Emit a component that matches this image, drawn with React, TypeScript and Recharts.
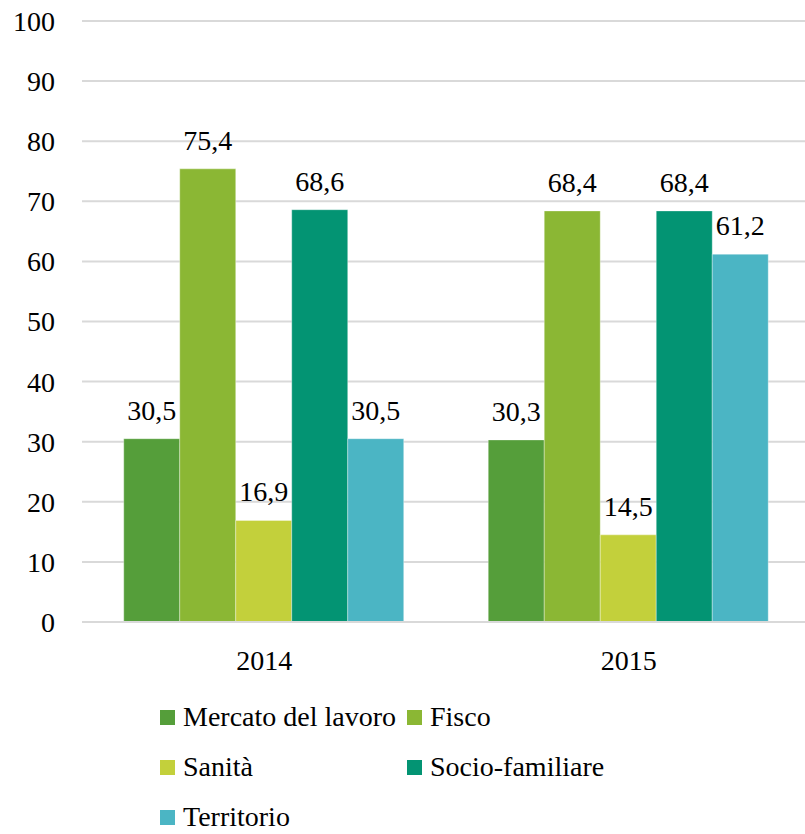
import React from "react"
import { Bar, BarChart, CartesianGrid, LabelList, XAxis, YAxis } from "recharts"

const years = ["2014", "2015"]
const mercato = [30.5, 30.3]
const fisco = [75.4, 68.4]
const sanita = [16.9, 14.5]
const socio = [68.6, 68.4]
const territorio = [30.5, 61.2]
const yTicks = [0, 10, 20, 30, 40, 50, 60, 70, 80, 90, 100]

const series = [
  { key: "mercato", name: "Mercato del lavoro", color: "#559E3A" },
  { key: "fisco", name: "Fisco", color: "#8BB734" },
  { key: "sanita", name: "Sanità", color: "#C3D03B" },
  { key: "socio", name: "Socio-familiare", color: "#039473" },
  { key: "territorio", name: "Territorio", color: "#4BB5C4" },
]

const data = years.map((year, i) => ({
  year,
  mercato: mercato[i],
  fisco: fisco[i],
  sanita: sanita[i],
  socio: socio[i],
  territorio: territorio[i],
}))

const font = "Liberation Serif, DejaVu Serif, serif"
const fmt = (v: any) => String(v).replace(".", ",")

function LegendBox() {
  return (
    <div
      style={{
        position: "absolute",
        left: 160,
        top: 705,
        display: "grid",
        gridTemplateColumns: "247px 250px",
        rowGap: 26,
        fontFamily: font,
        fontSize: 28,
        lineHeight: "24px",
        color: "#000",
      }}
    >
      {series.map((s) => (
        <div key={s.key} style={{ display: "flex", alignItems: "center", height: 24, whiteSpace: "nowrap" }}>
          <span style={{ width: 15, height: 15, background: s.color, marginRight: 8, display: "inline-block" }} />
          {s.name}
        </div>
      ))}
    </div>
  )
}

export default function App() {
  return (
    <div style={{ position: "absolute", left: 0, top: 0, width: 805, height: 834, overflow: "hidden", background: "#fff" }}>
      <BarChart
        width={811}
        height={690}
        data={data}
        margin={{ top: 21, right: 0, left: 0, bottom: 0 }}
        barCategoryGap="11.45%"
        barGap={0}
      >
        <CartesianGrid vertical={false} stroke="#d9d9d9" strokeWidth={2} />
        <XAxis
          dataKey="year"
          axisLine={{ stroke: "#d9d9d9", strokeWidth: 2 }}
          tickLine={false}
          tickSize={0}
          tickMargin={28}
          height={68}
          tick={{ fontSize: 28, fill: "#000", fontFamily: font }}
        />
        <YAxis
          domain={[0, 100]}
          ticks={yTicks}
          axisLine={false}
          tickLine={false}
          tickSize={0}
          tickMargin={27}
          width={82}
          tick={{ fontSize: 28, fill: "#000", fontFamily: font }}
        />
        {series.map((s) => (
          <Bar key={s.key} dataKey={s.key} name={s.name} fill={s.color} stroke="#ffffff" strokeOpacity={0.35} strokeWidth={1} isAnimationActive={false}>
            <LabelList
              dataKey={s.key}
              position="top"
              offset={19}
              formatter={fmt}
              style={{ fontSize: 28, fill: "#000", fontFamily: font }}
            />
          </Bar>
        ))}
      </BarChart>
      <LegendBox />
    </div>
  )
}
